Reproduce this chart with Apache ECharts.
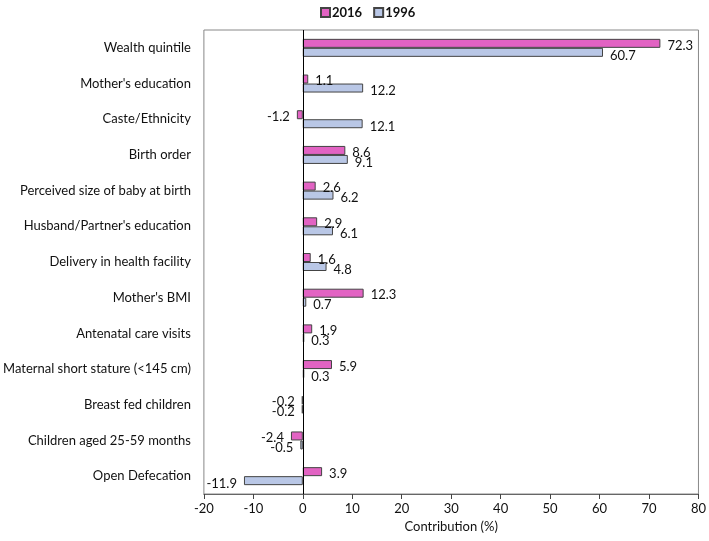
<!DOCTYPE html>
<html>
<head>
<meta charset="utf-8">
<script src="https://cdn.jsdelivr.net/npm/echarts@6/dist/echarts.min.js"></script>
<style>html,body{margin:0;padding:0;background:#fff}#c{width:709px;height:541px}</style>
</head>
<body>
<div id="c"></div>
<script>
const categories = ["Wealth quintile","Mother's education","Caste/Ethnicity","Birth order","Perceived size of baby at birth","Husband/Partner's education","Delivery in health facility","Mother's BMI","Antenatal care visits","Maternal short stature (<145 cm)","Breast fed children","Children aged 25-59 months","Open Defecation"];
const values2016 = [72.3, 1.1, -1.2, 8.6, 2.6, 2.9, 1.6, 12.3, 1.9, 5.9, -0.2, -2.4, 3.9];
const values1996 = [60.7, 12.2, 12.1, 9.1, 6.2, 6.1, 4.8, 0.7, 0.3, 0.3, -0.2, -0.5, -11.9];
const xTicks = [-20, -10, 0, 10, 20, 30, 40, 50, 60, 70, 80];

const FONT = 'Lato';
function items(arr){
  return arr.map(v => ({value: v, label: {position: v < 0 ? 'left' : 'right'}}));
}
const chart = echarts.init(document.getElementById('c'));
chart.setOption({
  animation: false,
  textStyle: {fontFamily: FONT},
  legend: {
    left: 315, top: 1, itemWidth: 9, itemHeight: 9, itemGap: 11,
    icon: 'rect',
    textStyle: {fontSize: 13, color: '#111', fontFamily: FONT, fontWeight: 'bold', padding: [0,0,0,-3]},
    data: ['2016', '1996']
  },
  grid: {left: 203, right: 8, top: 30, bottom: 47, show: true, borderColor: '#888', borderWidth: 1},
  xAxis: {
    type: 'value', min: xTicks[0], max: xTicks[xTicks.length-1], interval: 10,
    name: 'Contribution (%)', nameLocation: 'middle', nameGap: 23,
    nameTextStyle: {fontSize: 13, color: '#111', fontFamily: FONT},
    axisLine: {show: true, onZero: false, lineStyle: {color: '#666', width: 1}},
    axisTick: {show: true, length: 5, lineStyle: {color: '#444'}},
    axisLabel: {fontSize: 13, color: '#111', margin: 8, fontFamily: FONT},
    splitLine: {show: false}
  },
  yAxis: {
    type: 'category', data: categories, inverse: true,
    axisLine: {show: false}, axisTick: {show: false},
    axisLabel: {fontSize: 13, color: '#111', margin: 13, fontFamily: FONT}
  },
  series: [
    {
      name: '2016', type: 'bar', data: items(values2016), barWidth: 9, barGap: '0%',
      itemStyle: {color: '#e263c3', borderColor: '#444', borderWidth: 1},
      label: {show: true, fontSize: 13, color: '#111', distance: 7, offset: [0, 2], fontFamily: FONT},
      markLine: {
        silent: true, symbol: 'none', label: {show: false},
        lineStyle: {color: '#000', type: 'solid', width: 1},
        data: [{xAxis: 0}]
      }
    },
    {
      name: '1996', type: 'bar', data: items(values1996), barWidth: 9,
      itemStyle: {color: '#b9c7e6', borderColor: '#444', borderWidth: 1},
      label: {show: true, fontSize: 13, color: '#111', distance: 7, offset: [0, 3], fontFamily: FONT}
    }
  ]
});
</script>
</body>
</html>
